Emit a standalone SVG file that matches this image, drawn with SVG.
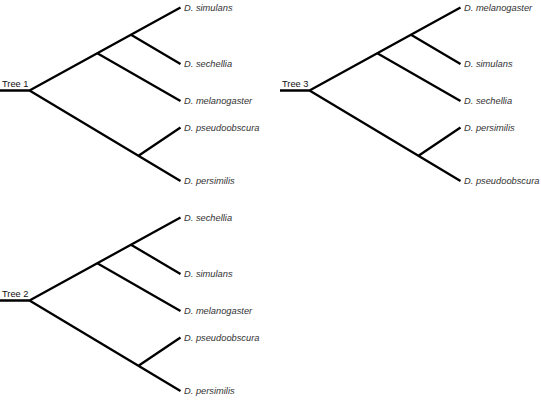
<svg xmlns="http://www.w3.org/2000/svg" width="541" height="411" viewBox="0 0 541 411">
<style>
.br{fill:none;stroke:#000;stroke-width:2.3;stroke-linecap:butt;stroke-linejoin:miter}
.sp{font-family:"Liberation Sans",Arial,sans-serif;font-size:9.3px;font-style:italic;fill:#333}
.tr{font-family:"Liberation Sans",Arial,sans-serif;font-size:9.3px;fill:#111}
</style>
<rect width="541" height="411" fill="#fff"/>
<defs>
<path id="tree" d="M0 90.5H29.5M29.5 90.5L180.5 7.5M97.3 53.2L180.5 101M131 34.7L180.5 64M29.5 90.5L180.5 181M138.5 155.8L180.5 127.5"/>
</defs>
<g id="connectors">
<use href="#tree" class="br"/>
<use href="#tree" class="br" transform="translate(0,210)"/>
<use href="#tree" class="br" transform="translate(280,0)"/>
</g>
<g id="tree1">
<g id="t1-label"><text class="tr" x="2" y="86.5">Tree 1</text></g>
<g id="t1-simulans"><text class="sp" x="184" y="10.8">D. simulans</text></g>
<g id="t1-sechellia"><text class="sp" x="184" y="67.3">D. sechellia</text></g>
<g id="t1-melanogaster"><text class="sp" x="184" y="104.3">D. melanogaster</text></g>
<g id="t1-pseudoobscura"><text class="sp" x="184" y="130.8">D. pseudoobscura</text></g>
<g id="t1-persimilis"><text class="sp" x="184" y="184.3">D. persimilis</text></g>
</g>
<g id="tree2" transform="translate(0,210)">
<g id="t2-label"><text class="tr" x="2" y="86.5">Tree 2</text></g>
<g id="t2-sechellia"><text class="sp" x="184" y="10.8">D. sechellia</text></g>
<g id="t2-simulans"><text class="sp" x="184" y="67.3">D. simulans</text></g>
<g id="t2-melanogaster"><text class="sp" x="184" y="104.3">D. melanogaster</text></g>
<g id="t2-pseudoobscura"><text class="sp" x="184" y="130.8">D. pseudoobscura</text></g>
<g id="t2-persimilis"><text class="sp" x="184" y="184.3">D. persimilis</text></g>
</g>
<g id="tree3" transform="translate(280,0)">
<g id="t3-label"><text class="tr" x="2" y="86.5">Tree 3</text></g>
<g id="t3-melanogaster"><text class="sp" x="184" y="10.8">D. melanogaster</text></g>
<g id="t3-simulans"><text class="sp" x="184" y="67.3">D. simulans</text></g>
<g id="t3-sechellia"><text class="sp" x="184" y="104.3">D. sechellia</text></g>
<g id="t3-persimilis"><text class="sp" x="184" y="130.8">D. persimilis</text></g>
<g id="t3-pseudoobscura"><text class="sp" x="184" y="184.3">D. pseudoobscura</text></g>
</g>
</svg>
